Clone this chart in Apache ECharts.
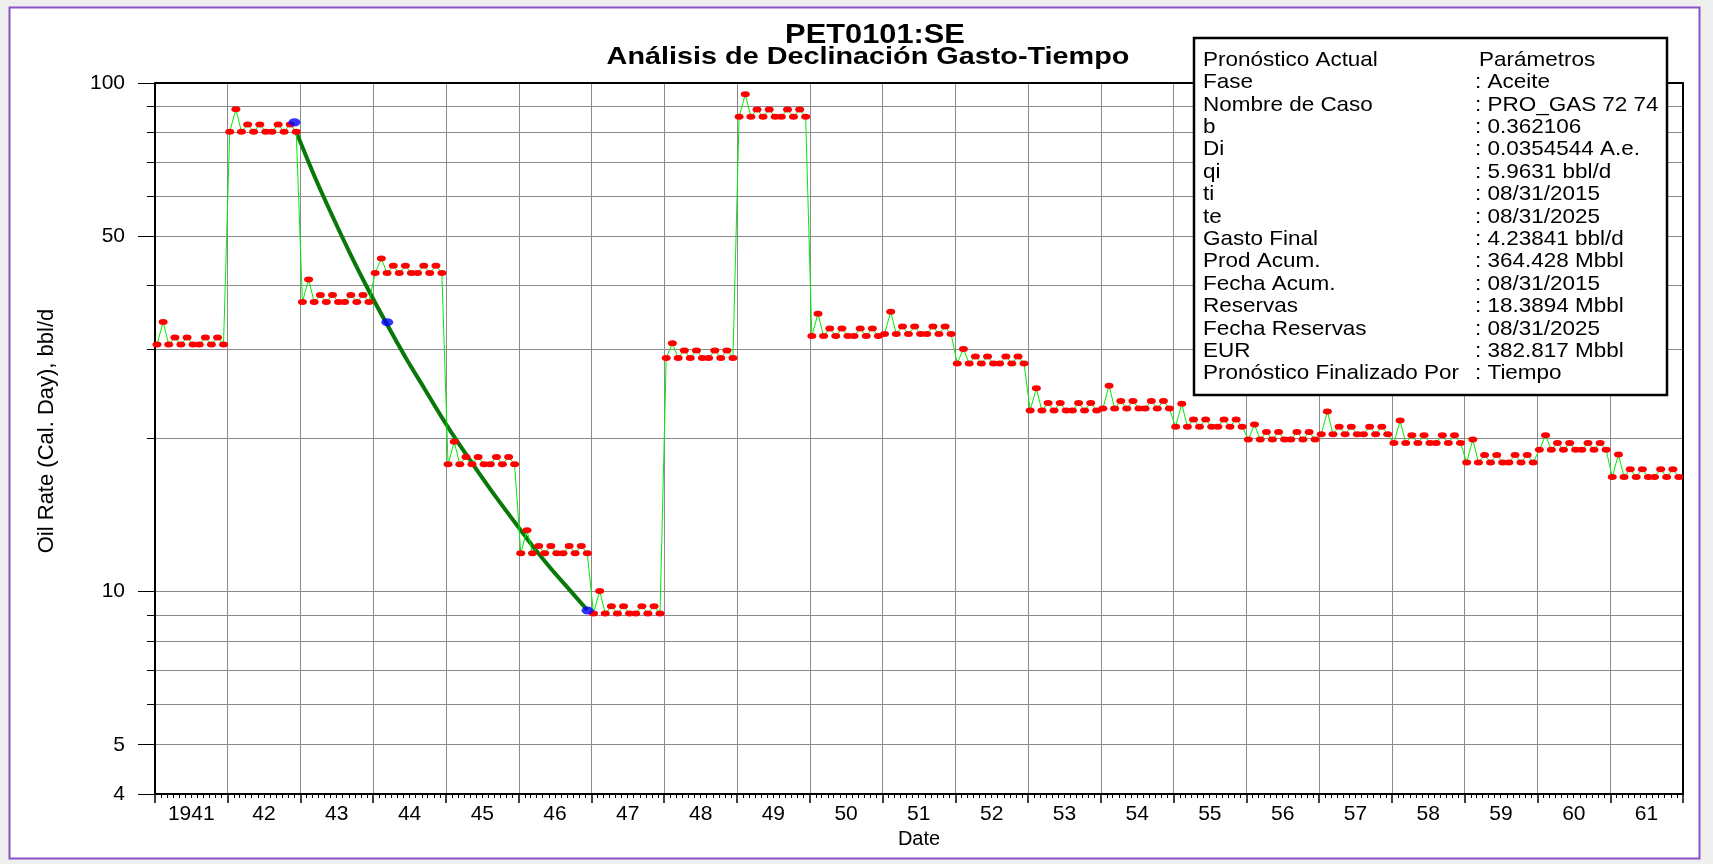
<!DOCTYPE html>
<html>
<head>
<meta charset="utf-8">
<script src="https://cdn.jsdelivr.net/npm/echarts@6/dist/echarts.min.js"></script>
<style>
html,body{margin:0;padding:0;background:#efefef;}
#chart{width:1713px;height:864px;}
</style>
</head>
<body>
<div id="chart"></div>
<script>
// ---------- DATA ----------
const years = [1941,1942,1943,1944,1945,1946,1947,1948,1949,1950,1951,1952,1953,1954,1955,1956,1957,1958,1959,1960,1961];
const yearLabels = ['1941','42','43','44','45','46','47','48','49','50','51','52','53','54','55','56','57','58','59','60','61'];

// monthly oil rate (bbl/d, calendar day), Jan..Dec
const rate1941 = [30.6,33.9,30.6,31.6,30.6,31.6,30.6,30.6,31.6,30.6,31.6,30.6];
const rate1942 = [80.2,88.8,80.2,82.9,80.2,82.9,80.2,80.2,82.9,80.2,82.9,80.2];
const rate1943 = [37.1,41.1,37.1,38.3,37.1,38.3,37.1,37.1,38.3,37.1,38.3,37.1];
const rate1944 = [42.3,45.2,42.3,43.7,42.3,43.7,42.3,42.3,43.7,42.3,43.7,42.3];
const rate1945 = [17.8,19.7,17.8,18.4,17.8,18.4,17.8,17.8,18.4,17.8,18.4,17.8];
const rate1946 = [11.9,13.2,11.9,12.3,11.9,12.3,11.9,11.9,12.3,11.9,12.3,11.9];
const rate1947 = [9.06,10.03,9.06,9.36,9.06,9.36,9.06,9.06,9.36,9.06,9.36,9.06];
const rate1948 = [28.8,30.8,28.8,29.8,28.8,29.8,28.8,28.8,29.8,28.8,29.8,28.8];
const rate1949 = [85.8,95.0,85.8,88.7,85.8,88.7,85.8,85.8,88.7,85.8,88.7,85.8];
const rate1950 = [31.8,35.2,31.8,32.9,31.8,32.9,31.8,31.8,32.9,31.8,32.9,31.8];
const rate1951 = [32.1,35.5,32.1,33.2,32.1,33.2,32.1,32.1,33.2,32.1,33.2,32.1];
const rate1952 = [28.1,30.0,28.1,29.0,28.1,29.0,28.1,28.1,29.0,28.1,29.0,28.1];
const rate1953 = [22.7,25.1,22.7,23.5,22.7,23.5,22.7,22.7,23.5,22.7,23.5,22.7];
const rate1954 = [22.9,25.4,22.9,23.7,22.9,23.7,22.9,22.9,23.7,22.9,23.7,22.9];
const rate1955 = [21.1,23.4,21.1,21.8,21.1,21.8,21.1,21.1,21.8,21.1,21.8,21.1];
const rate1956 = [19.9,21.3,19.9,20.6,19.9,20.6,19.9,19.9,20.6,19.9,20.6,19.9];
const rate1957 = [20.4,22.6,20.4,21.1,20.4,21.1,20.4,20.4,21.1,20.4,21.1,20.4];
const rate1958 = [19.6,21.7,19.6,20.3,19.6,20.3,19.6,19.6,20.3,19.6,20.3,19.6];
const rate1959 = [17.95,19.9,17.95,18.55,17.95,18.55,17.95,17.95,18.55,17.95,18.55,17.95];
const rate1960 = [19.0,20.3,19.0,19.6,19.0,19.6,19.0,19.0,19.6,19.0,19.6,19.0];
const rate1961 = [16.8,18.6,16.8,17.4,16.8,17.4,16.8,16.8,17.4,16.8,17.4,16.8];
const yearlyRates = [rate1941,rate1942,rate1943,rate1944,rate1945,rate1946,rate1947,rate1948,rate1949,rate1950,rate1951,rate1952,rate1953,rate1954,rate1955,rate1956,rate1957,rate1958,rate1959,rate1960,rate1961];

// decline forecast curve
const forecastDates = ['1942-12-11','1943-03-11','1943-06-11','1943-09-11','1943-12-11','1944-03-11','1944-06-11','1944-09-11','1944-12-11','1945-03-11','1945-06-11','1945-09-11','1945-12-11','1946-03-11','1946-06-11','1946-09-11','1946-12-11'];
const forecastRates = [80.2,65.8,54.7,45.9,39.0,33.5,28.9,25.2,22.0,19.4,17.2,15.3,13.7,12.3,11.1,10.1,9.2];

// selected (blue) points
const pickDates = ['1942-12-02','1944-03-12','1946-12-12'];
const pickRates = [83.7,33.85,9.18];

// y axis ticks
const yGridValues = [4,5,6,7,8,9,10,20,30,40,50,60,70,80,90,100];
const yLabelValues = [4,5,10,50,100];

// info box
const infoLeft = ['Pronóstico Actual','Fase','Nombre de Caso','b','Di','qi','ti','te','Gasto Final','Prod Acum.','Fecha Acum.','Reservas','Fecha Reservas','EUR','Pronóstico Finalizado Por'];
const infoRight = ['Parámetros',': Aceite',': PRO_GAS 72 74',': 0.362106',': 0.0354544 A.e.',': 5.9631 bbl/d',': 08/31/2015',': 08/31/2025',': 4.23841 bbl/d',': 364.428 Mbbl',': 08/31/2015',': 18.3894 Mbbl',': 08/31/2025',': 382.817 Mbbl',': Tiempo'];

// ---------- BUILD ----------
const FONT = "'Liberation Sans', Arial, sans-serif";
function ts(y, m, d) { return Date.UTC(y, m, d); }
function parseD(s) { const p = s.split('-').map(Number); return ts(p[0], p[1]-1, p[2]); }

const oilData = [];
years.forEach((y, i) => {
  yearlyRates[i].forEach((v, m) => oilData.push([ts(y, m, 11), v]));
});
const forecastData = forecastDates.map((d, i) => [parseD(d), forecastRates[i]]);
const pickData = pickDates.map((d, i) => [parseD(d), pickRates[i]]);

const xMin = ts(years[0], 0, 1);
const xMax = ts(years[years.length-1] + 1, 0, 1);
const yearStarts = [];
for (let y = years[0]; y <= years[years.length-1] + 1; y++) yearStarts.push(ts(y, 0, 1));
const midYears = years.map(y => ts(y, 6, 2));
const monthTicks = [];
years.forEach(y => { for (let m = 1; m < 12; m++) monthTicks.push(ts(y, m, 1)); });

const graphics = [
  { type: 'rect', z: -100, silent: true,
    shape: { x: 9.5, y: 7.5, width: 1690, height: 851 },
    style: { fill: '#ffffff', stroke: '#8a52c6', lineWidth: 2 } },
  { type: 'text', z: 50, x: 875, y: 35, scaleX: 1.1,
    style: { text: 'PET0101:SE', fontFamily: FONT, fontWeight: 'bold', fontSize: 28, fill: '#000', align: 'center', verticalAlign: 'middle' } },
  { type: 'text', z: 50, x: 868, y: 57, scaleX: 1.2,
    style: { text: 'Análisis de Declinación Gasto-Tiempo', fontFamily: FONT, fontWeight: 'bold', fontSize: 24, fill: '#000', align: 'center', verticalAlign: 'middle' } },
  { type: 'rect', z: 100,
    shape: { x: 1194, y: 38, width: 473, height: 357 },
    style: { fill: '#ffffff', stroke: '#000', lineWidth: 2.5 } }
];
infoLeft.forEach((t, i) => {
  graphics.push({ type: 'text', z: 101, x: 1203, y: 60 + i * 22.4, scaleX: 1.07,
    style: { text: t, fontFamily: FONT, fontSize: 21, fill: '#000', align: 'left', verticalAlign: 'middle' } });
  graphics.push({ type: 'text', z: 101, x: i === 0 ? 1479 : 1475, y: 60 + i * 22.4, scaleX: 1.07,
    style: { text: infoRight[i], fontFamily: FONT, fontSize: 21, fill: '#000', align: 'left', verticalAlign: 'middle' } });
});

const gridLine = { color: '#8a8a8a', width: 1 };

const option = {
  animation: false,
  backgroundColor: '#efefef',
  textStyle: { fontFamily: FONT },
  grid: { left: 155, right: 30, top: 83, bottom: 70, containLabel: false },
  graphic: { elements: graphics },
  xAxis: [
    { type: 'value', min: xMin, max: xMax, position: 'bottom',
      name: 'Date', nameLocation: 'middle', nameGap: 33,
      nameTextStyle: { fontSize: 20, color: '#000', fontFamily: FONT },
      axisLine: { show: true, onZero: false, lineStyle: { color: '#000', width: 2 } },
      axisTick: { show: true, length: 9, customValues: yearStarts, lineStyle: { color: '#000', width: 1.5 } },
      axisLabel: { show: true, customValues: midYears, margin: 10, fontSize: 21, color: '#000', fontFamily: FONT,
        formatter: (v) => yearLabels[new Date(v).getUTCFullYear() - years[0]] },
      splitLine: { show: true, lineStyle: gridLine } },
    { type: 'value', min: xMin, max: xMax, position: 'bottom',
      axisLine: { show: false, onZero: false },
      axisTick: { show: true, length: 4, customValues: monthTicks, lineStyle: { color: '#000', width: 1 } },
      axisLabel: { show: false }, splitLine: { show: false } },
    { type: 'value', min: xMin, max: xMax, position: 'top',
      axisLine: { show: true, onZero: false, lineStyle: { color: '#000', width: 2 } },
      axisTick: { show: false }, axisLabel: { show: false }, splitLine: { show: false } }
  ],
  yAxis: [
    { type: 'log', logBase: 10, min: 4, max: 100, position: 'left',
      name: 'Oil Rate (Cal. Day), bbl/d', nameLocation: 'middle', nameGap: 97, nameRotate: 90,
      nameTextStyle: { fontSize: 22, color: '#000', fontFamily: FONT, padding: [0, 0, 0, 15] },
      axisLine: { show: true, onZero: false, lineStyle: { color: '#000', width: 2 } },
      axisTick: { show: true, length: 8, customValues: yGridValues, lineStyle: { color: '#000', width: 1 } },
      axisLabel: { show: true, customValues: yLabelValues, margin: 30, fontSize: 21, color: '#000', fontFamily: FONT },
      splitLine: { show: true, lineStyle: gridLine } },
    { type: 'log', logBase: 10, min: 4, max: 100, position: 'left',
      axisLine: { show: false, onZero: false },
      axisTick: { show: true, length: 17, customValues: yLabelValues, lineStyle: { color: '#000', width: 1 } },
      axisLabel: { show: false }, splitLine: { show: false } },
    { type: 'log', logBase: 10, min: 4, max: 100, position: 'right',
      axisLine: { show: true, onZero: false, lineStyle: { color: '#000', width: 2 } },
      axisTick: { show: false }, axisLabel: { show: false }, splitLine: { show: false } }
  ],
  series: [
    { type: 'line', name: 'Pronóstico', data: forecastData, smooth: 0.3, showSymbol: false, silent: true, z: 3,
      lineStyle: { color: '#087808', width: 4 } },
    { type: 'line', name: 'Aceite', data: oilData, symbol: 'circle', symbolSize: [9, 6], showAllSymbol: true, z: 4,
      itemStyle: { color: '#ff0000' }, lineStyle: { color: '#00ee00', width: 1 } },
    { type: 'scatter', name: 'Puntos', data: pickData, symbol: 'circle', symbolSize: [12, 8], z: 5,
      itemStyle: { color: '#0000ff' } }
  ]
};

const chart = echarts.init(document.getElementById('chart'), null, { renderer: 'canvas' });
chart.setOption(option);
</script>
</body>
</html>
